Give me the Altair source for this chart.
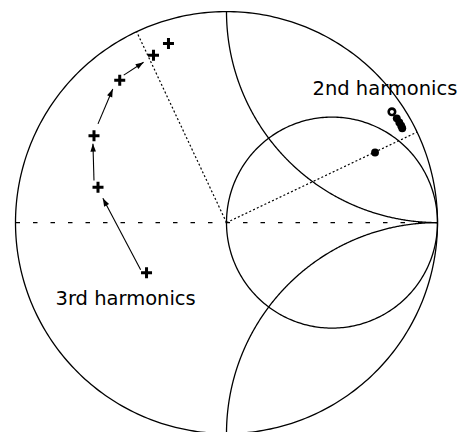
import altair as alt
import numpy as np
import pandas as pd

# ---- Smith chart grid (reflection-coefficient plane) ----
grid_names = ["outer", "r1", "xpos", "xneg"]
grid_cx = [0.0, 0.5, 1.0, 1.0]
grid_cy = [0.0, 0.0, 1.0, -1.0]
grid_r = [1.0, 0.5, 1.0, 1.0]
grid_t0 = [0, 0, 180, 90]
grid_t1 = [360, 360, 270, 180]

# ---- 3rd harmonics (plus markers) ----
third_x = [-0.379, -0.609, -0.628, -0.506, -0.346, -0.275]
third_y = [-0.238, 0.167, 0.412, 0.675, 0.793, 0.849]

# arrows between 3rd-harmonic points
arrow_x0 = [-0.407, -0.628, -0.609, -0.487]
arrow_y0 = [-0.224, 0.200, 0.468, 0.699]
arrow_x1 = [-0.586, -0.633, -0.539, -0.393]
arrow_y1 = [0.115, 0.374, 0.633, 0.760]

# ---- 2nd harmonics ----
second_open_x = [0.784]
second_open_y = [0.525]
second_x = [0.807, 0.819, 0.828, 0.833, 0.704]
second_y = [0.494, 0.475, 0.459, 0.447, 0.332]

# dotted radial lines (end points on the unit circle)
ray_x = [-0.426, 0.903]
ray_y = [0.905, 0.429]

label_text = ["2nd harmonics", "3rd harmonics"]
label_x = [0.751, -0.478]
label_y = [0.605, -0.392]

# ---- layout ----
W, H = 450, 424
CX, CY, R = 218.5, 211.6, 211.0
xs = alt.Scale(domain=[-CX / R, (W - CX) / R], nice=False, zero=False)
ys = alt.Scale(domain=[-(H - CY) / R, CY / R], nice=False, zero=False)

rows = []
for n, cx, cy, r, t0, t1 in zip(grid_names, grid_cx, grid_cy, grid_r, grid_t0, grid_t1):
    t = np.radians(np.linspace(t0, t1, 361))
    for i, a in enumerate(t):
        rows.append({"name": n, "i": i, "x": cx + r * np.cos(a), "y": cy + r * np.sin(a)})
grid_df = pd.DataFrame(rows)

X = lambda f="x": alt.X(f"{f}:Q", scale=xs, axis=None)
Y = lambda f="y": alt.Y(f"{f}:Q", scale=ys, axis=None)

grid = alt.Chart(grid_df).mark_line(color="black", strokeWidth=1.3).encode(
    x=X(), y=Y(), detail="name:N", order="i:Q"
)

axis_df = pd.DataFrame({"x": [-1.0], "x2": [1.0], "y": [0.0]})
hline = alt.Chart(axis_df).mark_rule(color="black", strokeWidth=1.1, strokeDash=[4.5, 13]).encode(
    x=X(), x2="x2:Q", y=Y()
)

ray_df = pd.DataFrame({"x": [0.0] * len(ray_x), "y": [0.0] * len(ray_y), "x2": ray_x, "y2": ray_y})
rays = alt.Chart(ray_df).mark_rule(color="black", strokeWidth=1.2, strokeDash=[2, 2.2]).encode(
    x=X(), y=Y(), x2="x2:Q", y2="y2:Q"
)

arr_df = pd.DataFrame({"x": arrow_x0, "y": arrow_y0, "x2": arrow_x1, "y2": arrow_y1})
arr_df["angle"] = np.degrees(np.arctan2(arr_df["x2"] - arr_df["x"], arr_df["y2"] - arr_df["y"])) % 360
arrows = alt.Chart(arr_df).mark_rule(color="black", strokeWidth=1.1).encode(
    x=X(), y=Y(), x2="x2:Q", y2="y2:Q"
)
heads = alt.Chart(arr_df).mark_point(
    shape="M0,0L-0.35,1L0.35,1Z", filled=True, size=256, color="black", opacity=1
).encode(x=X("x2"), y=Y("y2"), angle=alt.Angle("angle:Q", scale=None))

third_df = pd.DataFrame({"x": third_x, "y": third_y})
plus = alt.Chart(third_df).mark_point(
    shape="M-1,0L1,0M0,-1L0,1", filled=False, size=121, strokeWidth=3, color="black", opacity=1
).encode(x=X(), y=Y())

open_df = pd.DataFrame({"x": second_open_x, "y": second_open_y})
opens = alt.Chart(open_df).mark_point(
    shape="circle", filled=False, size=42, strokeWidth=2.6, color="black", opacity=1
).encode(x=X(), y=Y())

sec_df = pd.DataFrame({"x": second_x, "y": second_y})
dots = alt.Chart(sec_df).mark_point(
    shape="circle", filled=True, size=62, color="black", opacity=1
).encode(x=X(), y=Y())

lab_df = pd.DataFrame({"t": label_text, "x": label_x, "y": label_y})
labels = alt.Chart(lab_df).mark_text(
    font="DejaVu Sans", fontSize=19.5, align="center", baseline="alphabetic", color="black"
).encode(x=X(), y=Y(), text="t:N")

chart = alt.layer(grid, hline, rays, arrows, heads, plus, opens, dots, labels).properties(
    width=W, height=H, padding=0, background="white"
).configure_view(stroke=None)

chart.save("out.html", embed_options={"renderer": "svg", "actions": False})
